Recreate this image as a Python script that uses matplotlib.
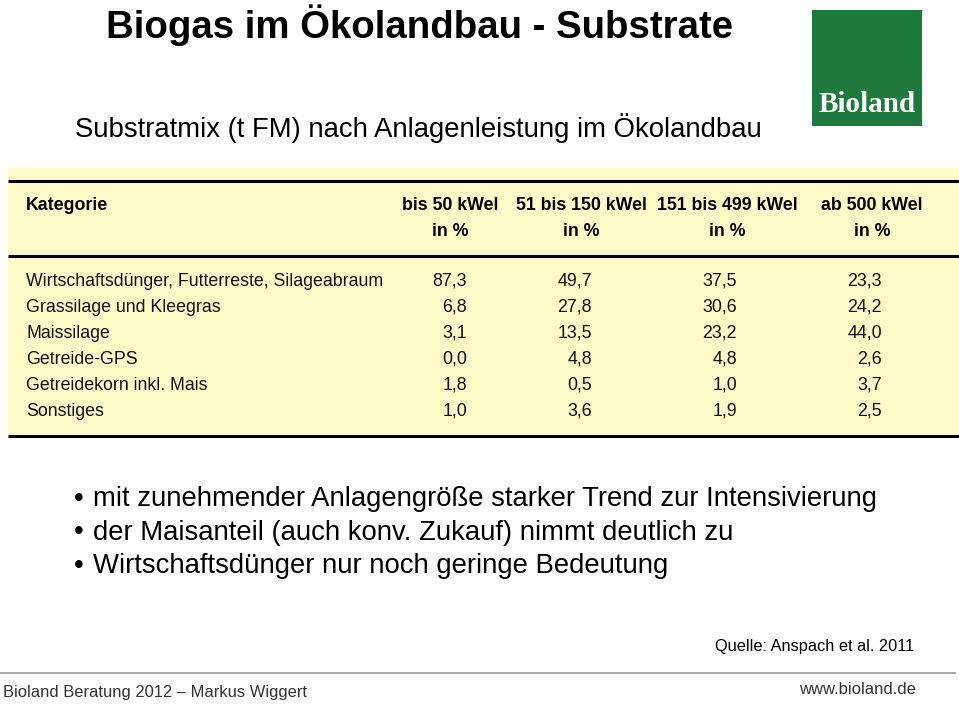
import matplotlib
matplotlib.use("Agg")
import matplotlib.pyplot as plt
from matplotlib.patches import Rectangle

plt.rcParams['font.family'] = ['Liberation Sans', 'DejaVu Sans']

title = "Biogas im Ökolandbau - Substrate"
subtitle = "Substratmix (t FM) nach Anlagenleistung im Ökolandbau"
header_cat = "Kategorie"
columns = ["bis 50 kWel", "51 bis 150 kWel", "151 bis 499 kWel", "ab 500 kWel"]
unit = "in %"
categories = [
    "Wirtschaftsdünger, Futterreste, Silageabraum",
    "Grassilage und Kleegras",
    "Maissilage",
    "Getreide-GPS",
    "Getreidekorn inkl. Mais",
    "Sonstiges",
]
bis_50 = [87.3, 6.8, 3.1, 0.0, 1.8, 1.0]
k51_150 = [49.7, 27.8, 13.5, 4.8, 0.5, 3.6]
k151_499 = [37.5, 30.6, 23.2, 4.8, 1.0, 1.9]
ab_500 = [23.3, 24.2, 44.0, 2.6, 3.7, 2.5]
series = [bis_50, k51_150, k151_499, ab_500]
bullets = [
    "mit zunehmender Anlagengröße starker Trend zur Intensivierung",
    "der Maisanteil (auch konv. Zukauf) nimmt deutlich zu",
    "Wirtschaftsdünger nur noch geringe Bedeutung",
]
source = "Quelle: Anspach et al. 2011"
footer_left = "Bioland Beratung 2012 \u2013 Markus Wiggert"
footer_right = "www.bioland.de"

W, H = 959, 705
fig = plt.figure(figsize=(W / 100, H / 100), dpi=100)
ax = fig.add_axes([0, 0, 1, 1])
ax.set_xlim(0, W)
ax.set_ylim(H, 0)
ax.axis('off')

# Title
ax.text(419, 25, title, fontsize=27.6, fontweight='bold', ha='center', va='center',
        color='black')
ax.text(418, 128, subtitle, fontsize=19.8, ha='center', va='center', color='black')

# Logo
ax.add_patch(Rectangle((812, 10), 110, 116, facecolor='#1d7a3c', edgecolor='none'))
ax.text(867, 105, "Bioland", fontsize=21, fontweight='bold', ha='center', va='center',
        family=['Liberation Serif', 'DejaVu Serif'], color='white')

# Table background
ax.add_patch(Rectangle((8, 168), 951, 270, facecolor='#fefac8', edgecolor='none'))
for y in (181, 256, 436):
    ax.plot([8, 959], [y, y], color='black', lw=2.2, solid_capstyle='butt')

fs = 12.75
ax.text(26, 206, header_cat, fontsize=fs, fontweight='bold', ha='left', va='center')
col_centers = [450, 581, 727, 872]
col_rights = [467, 592, 737, 882]
for c, name in zip(col_centers, columns):
    ax.text(c, 206, name, fontsize=fs, fontweight='bold', ha='center', va='center')
    ax.text(c, 232, unit, fontsize=fs, fontweight='bold', ha='center', va='center')

row_y0, row_dy = 281, 26.1
for i, cat in enumerate(categories):
    y = row_y0 + i * row_dy
    ax.text(26, y, cat, fontsize=fs, ha='left', va='center', color='#111111')
    for r, vals in zip(col_rights, series):
        ax.text(r, y, f"{vals[i]:.1f}".replace('.', ','), fontsize=fs, ha='right',
                va='center', color='#111111')

# Bullets
for i, b in enumerate(bullets):
    y = 499 + i * 33.5
    ax.text(74, y, "\u2022", fontsize=19.8, ha='left', va='center')
    ax.text(93, y, b, fontsize=19.8, ha='left', va='center')

ax.text(914, 647, source, fontsize=11.8, ha='right', va='center')
ax.plot([0, 955], [673, 673], color='#9a9a9a', lw=1.2)
ax.text(3, 693, footer_left, fontsize=11.9, ha='left', va='center', color='#333333')
ax.text(916, 690, footer_right, fontsize=12, ha='right', va='center', color='#333333')

fig.savefig("out.png", dpi=100)
